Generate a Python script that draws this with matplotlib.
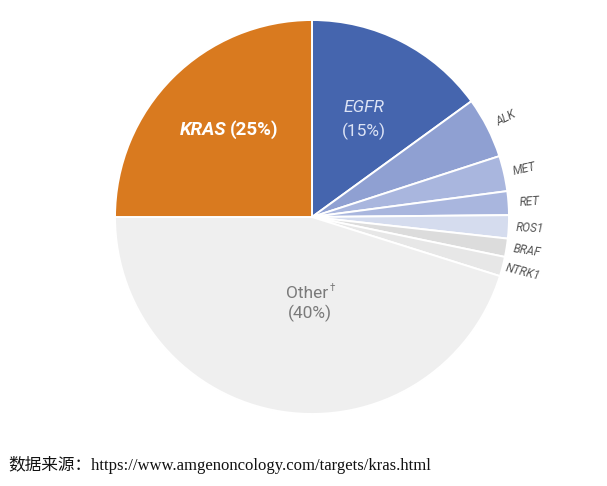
import numpy as np
import matplotlib
matplotlib.use("Agg")
import matplotlib.pyplot as plt

# Data
categories = ["EGFR", "ALK", "MET", "RET", "ROS1", "BRAF", "NTRK1", "Other", "KRAS"]
values = [15, 5, 2.9, 1.95, 1.9, 1.5, 1.6, 45.15, 25]
colors = ["#4565AE", "#8FA0D2", "#A9B6DE", "#A9B6DE", "#D5DCEE", "#DCDCDC", "#E7E7E7", "#EFEFEF", "#D97A1F"]
small_labels = ["ALK", "MET", "RET", "ROS1", "BRAF", "NTRK1"]
source_text = "数据来源：https://www.amgenoncology.com/targets/kras.html"

W, H = 607, 486
fig = plt.figure(figsize=(W / 100, H / 100), dpi=100)
ax = fig.add_axes([0, 0, 1, 1])
ax.axis("off")

cx, cy, R = 312, H - 217, 197
wedges, _ = ax.pie(values, colors=colors, startangle=90, counterclock=False,
                   center=(cx, cy), radius=R,
                   wedgeprops=dict(edgecolor="white", linewidth=1.4))
ax.set_xlim(0, W)
ax.set_ylim(0, H)
ax.set_aspect("equal")

font = "Roboto"

# Outer small labels
for i, w in enumerate(wedges):
    name = categories[i]
    if name in small_labels:
        mid = (w.theta1 + w.theta2) / 2
        rr = R + 21
        x = cx + rr * np.cos(np.radians(mid))
        y = cy + rr * np.sin(np.radians(mid))
        ax.text(x, y, name, ha="center", va="center", rotation=mid,
                rotation_mode="anchor", fontsize=8.5, color="#555555",
                family=font, style="italic")

# Inner labels
ax.text(226, H - 130, "KRAS", ha="right", va="center", fontsize=13.5,
        color="white", family=font, fontweight="bold", style="italic")
ax.text(230, H - 130, "(25%)", ha="left", va="center", fontsize=13.5,
        color="white", family=font, fontweight="bold")
ax.text(364, H - 107, "EGFR", ha="center", va="center", fontsize=12.5,
        color="#DCE3F5", family=font, style="italic")
ax.text(364, H - 131, "(15%)", ha="center", va="center", fontsize=12.5,
        color="#DCE3F5", family=font)
ax.text(307, H - 293, "Other", ha="center", va="center", fontsize=12.5,
        color="#7A7A7A", family=font)
ax.text(330, H - 288, "\u2020", ha="left", va="center", fontsize=7,
        color="#7A7A7A", family=font)
ax.text(310, H - 313, "(40%)", ha="center", va="center", fontsize=12.5,
        color="#7A7A7A", family=font)

# Source text
ax.text(8, H - 465, source_text, ha="left", va="center", fontsize=12,
        color="#111111", family=["Liberation Serif", "Noto Sans CJK SC"])

fig.savefig("out.png", dpi=100, facecolor="white")
